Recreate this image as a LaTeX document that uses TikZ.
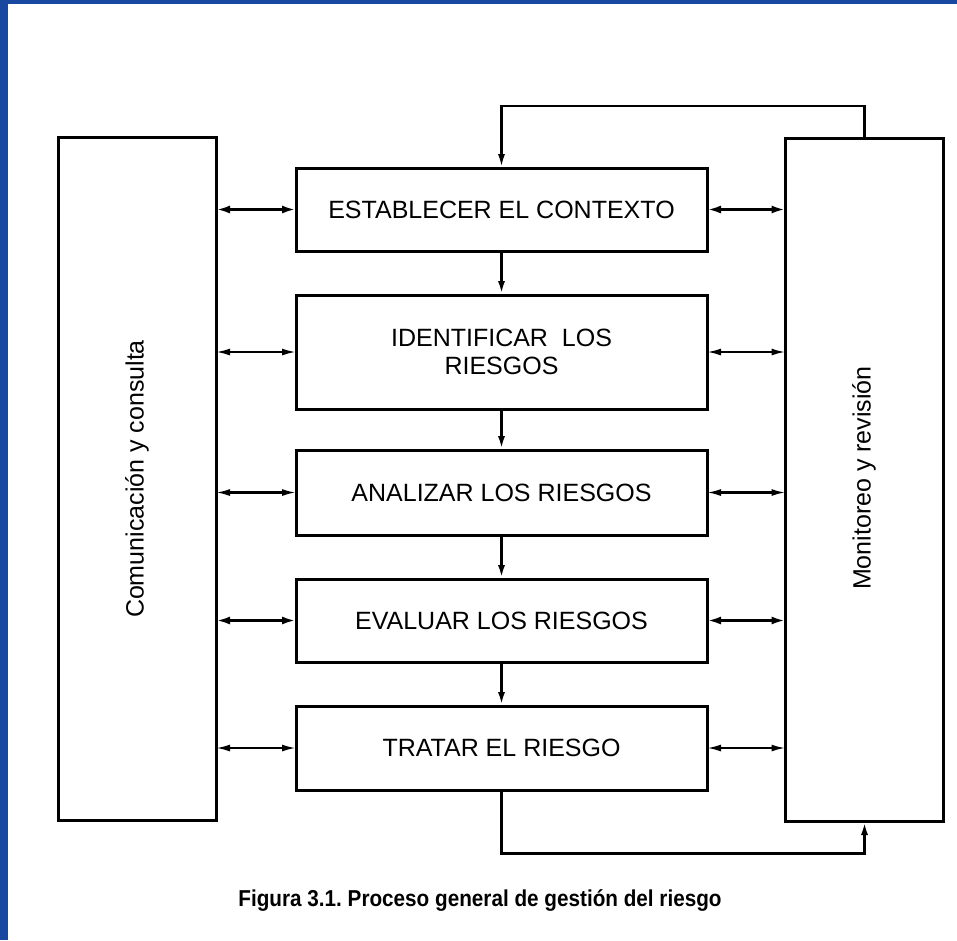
\documentclass[tikz,border=0pt]{standalone}
\usepackage{fontspec}
\setmainfont{Liberation Sans}
\usetikzlibrary{arrows.meta}
\definecolor{frameblue}{RGB}{24,72,160}
\frenchspacing
\tikzset{
  box/.style={draw=black, line width=3pt, rectangle, inner sep=0pt, outer sep=0pt, align=center,
    font=\fontsize{25}{28}\selectfont},
  sidebox/.style={box, minimum width=158pt, minimum height=683pt},
  midbox/.style={box, minimum width=411pt},
  thicklink/.style={line width=3pt, {Latex[length=14pt,width=8pt]}-{Latex[length=14pt,width=8pt]}},
  thinlink/.style={line width=2.1pt, {Latex[length=14pt,width=7pt]}-{Latex[length=14pt,width=7pt]}},
  flow/.style={line width=3pt, -{Latex[length=14pt,width=7pt]}},
}
\begin{document}
\begin{tikzpicture}[x=1pt,y=-1pt]
\useasboundingbox (0,0) rectangle (957,940);
\fill[white] (0,0) rectangle (957,940);
\fill[frameblue] (0,0) rectangle (8,940);
\fill[frameblue] (0,0) rectangle (957,4);

\node[sidebox] (L) at (137,478.5) {};
\node[sidebox] (R) at (864.5,479.5) {};
\node[rotate=90, font=\fontsize{25}{28}\selectfont] (Ltext) at (137,479) {Comunicación y consulta};
\node[rotate=90, font=\fontsize{25}{28}\selectfont] (Rtext) at (864,478) {Monitoreo y revisión};

\node[midbox, minimum height=83pt] (b1) at (501.5,209.5) {ESTABLECER EL CONTEXTO};
\node[midbox, minimum height=114pt] (b2) at (501.5,352) {IDENTIFICAR\ \ LOS\\RIESGOS};
\node[midbox, minimum height=85pt] (b3) at (501.5,492.5) {ANALIZAR LOS RIESGOS};
\node[midbox, minimum height=83pt] (b4) at (501.5,620.5) {EVALUAR LOS RIESGOS};
\node[midbox, minimum height=84pt] (b5) at (501.5,748) {TRATAR EL RIESGO};

% left links
\draw[thicklink] (b1.west -| L.east) -- (b1.west);
\draw[thinlink] (b2.west -| L.east) -- (b2.west);
\draw[thinlink] (b3.west -| L.east) -- (b3.west);
\draw[thicklink] (b4.west -| L.east) -- (b4.west);
\draw[thinlink] (b5.west -| L.east) -- (b5.west);
% right links
\draw[thicklink] (b1.east) -- (b1.east -| R.west);
\draw[thinlink] (b2.east) -- (b2.east -| R.west);
\draw[thinlink] (b3.east) -- (b3.east -| R.west);
\draw[thicklink] (b4.east) -- (b4.east -| R.west);
\draw[thinlink] (b5.east) -- (b5.east -| R.west);

% vertical flow
\draw[flow] (b1.south) -- (b2.north);
\draw[flow] (b2.south) -- (b3.north);
\draw[flow] (b3.south) -- (b4.north);
\draw[flow] (b4.south) -- (b5.north);

% feedback loops
\draw[line width=2.6pt, -{Latex[length=14pt,width=7pt]}] (R.north) -- ++(0,-32) -| (b1.north);
\draw[line width=3pt, -{Latex[length=14pt,width=7pt]}] (b5.south) -- ++(0,63) -| (R.south);

\node[font=\bfseries\fontsize{23}{26}\selectfont] (cap) at (480,900) {\scalebox{0.9}[1]{Figura 3.1. Proceso general de gestión del riesgo}};
\end{tikzpicture}
\end{document}
